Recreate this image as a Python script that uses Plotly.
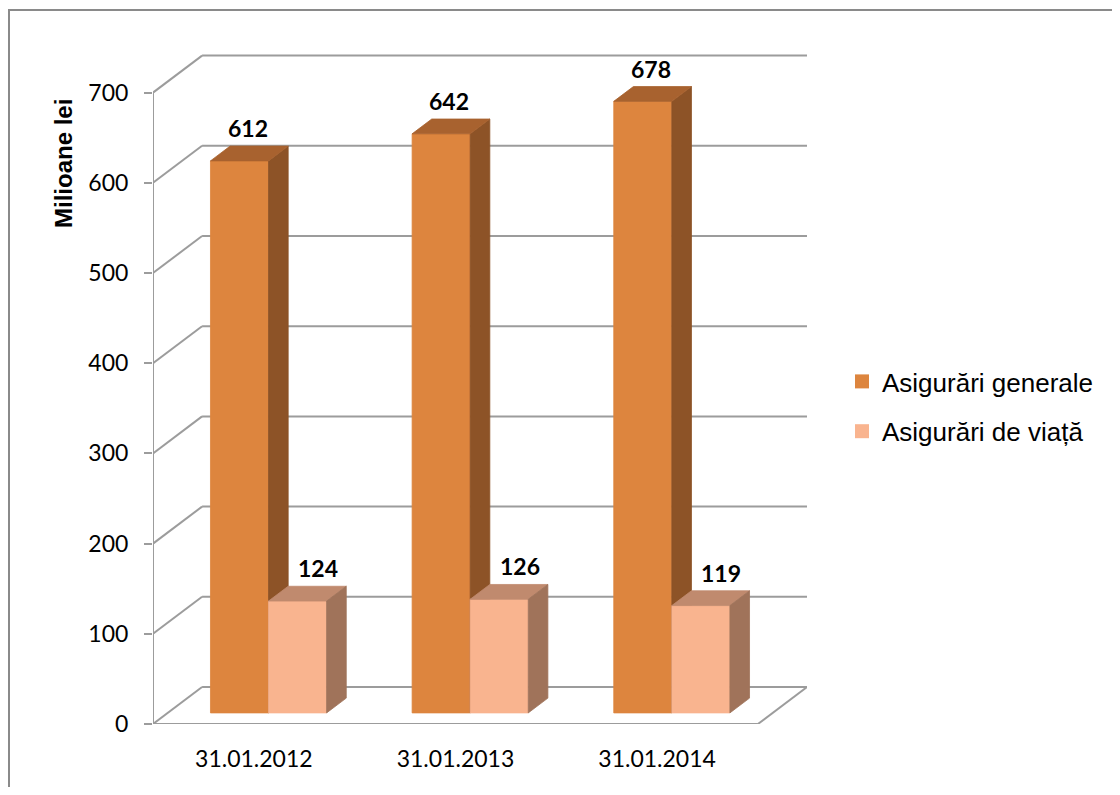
import plotly.graph_objects as go

# ---------------- data ----------------
categories = ["31.01.2012", "31.01.2013", "31.01.2014"]
general = [612, 642, 678]
life = [124, 126, 119]
series_names = ["Asigurări generale", "Asigurări de viață"]
y_ticks = [0, 100, 200, 300, 400, 500, 600, 700]
y_title = "Milioane lei"

# ---------------- style / geometry ----------------
DX = 0.2434   # depth offset (category units)
DY = 41.0     # depth offset (value units)
Z0, Z1 = 0.3, 0.7  # bar front / back depth fraction
W = 0.288     # bar width (category units)
GRID = "#9C9C9C"
col_gen = {"front": "#DD853E", "side": "#8D5327", "top": "#A8622F"}
col_life = {"front": "#F9B48F", "side": "#A0735A", "top": "#C08A6E"}
TICK_FONT = dict(family="Lato, Carlito, Calibri, sans-serif", size=23, color="#000000")
LABEL_FONT = dict(family="Lato, Carlito, Calibri, sans-serif", size=23, color="#000000")

n = len(categories)
xmin, xmax = -0.5, n - 0.5
ymax_axis = y_ticks[-1]

fig = go.Figure()


def faces(values, left_off):
    fx, fy, sx, sy, tx, ty = [], [], [], [], [], []
    for i, v in enumerate(values):
        x0 = i + left_off
        x1 = x0 + W
        a0, b0 = Z0 * DX, Z0 * DY
        a1, b1 = Z1 * DX, Z1 * DY
        fx += [x0 + a0, x1 + a0, x1 + a0, x0 + a0, x0 + a0, None]
        fy += [b0, b0, v + b0, v + b0, b0, None]
        sx += [x1 + a0, x1 + a1, x1 + a1, x1 + a0, x1 + a0, None]
        sy += [b0, b1, v + b1, v + b0, b0, None]
        tx += [x0 + a0, x1 + a0, x1 + a1, x0 + a1, x0 + a0, None]
        ty += [v + b0, v + b0, v + b1, v + b1, v + b0, None]
    return (fx, fy), (sx, sy), (tx, ty)


def poly(xy, color):
    return go.Scatter(x=xy[0], y=xy[1], mode="lines", fill="toself",
                      fillcolor=color, line=dict(color=color, width=0.8),
                      hoverinfo="skip", showlegend=False)


gf, gs, gt = faces(general, -W)
lf, ls, lt = faces(life, 0.0)
fig.add_trace(poly(gf, col_gen["front"]))
fig.add_trace(poly(gs, col_gen["side"]))
fig.add_trace(poly(gt, col_gen["top"]))
fig.add_trace(poly(lf, col_life["front"]))
fig.add_trace(poly(lt, col_life["top"]))
fig.add_trace(poly(ls, col_life["side"]))

# legend entries
for name, c, grp in [(series_names[0], col_gen["front"], "g1"),
                     (series_names[1], col_life["front"], "g2")]:
    fig.add_trace(go.Scatter(x=[None], y=[None], mode="markers", name=name,
                             legendgroup=grp,
                             marker=dict(symbol="square", size=14, color=c)))

# data labels
for vals, off, xs in [(general, -W / 2, 0.47), (life, W / 2, 0.72)]:
    for i, v in enumerate(vals):
        fig.add_annotation(x=i + off + xs * DX, y=v + Z1 * DY, text=f"<b>{v}</b>",
                           showarrow=False, xanchor="center", yanchor="middle",
                           yshift=18, font=LABEL_FONT)

# 3D grid: back wall lines + side wall diagonals
shapes = []
line = dict(color=GRID, width=2)
for v in y_ticks:
    shapes.append(dict(type="line", xref="x", yref="y", x0=xmin + DX, y0=v + DY,
                       x1=xmax + DX, y1=v + DY, line=line, layer="below"))
    shapes.append(dict(type="line", xref="x", yref="y", x0=xmin, y0=v,
                       x1=xmin + DX, y1=v + DY, line=line, layer="below"))
# floor front edge and right edge
shapes.append(dict(type="line", xref="x", yref="y", x0=xmin, y0=0, x1=xmax, y1=0,
                   line=line, layer="below"))
shapes.append(dict(type="line", xref="x", yref="y", x0=xmax, y0=0, x1=xmax + DX, y1=DY,
                   line=line, layer="below"))
# front value axis
shapes.append(dict(type="line", xref="x", yref="y", x0=xmin, y0=0, x1=xmin, y1=ymax_axis,
                   line=line, layer="below"))
# category boundary ticks
for k in range(n + 1):
    xb = xmin + k
    shapes.append(dict(type="line", xref="x", yref="y", ysizemode="pixel", yanchor=0,
                       x0=xb, x1=xb, y0=0, y1=-9, line=line, layer="below"))

# page layout (page has an 8px body margin)
OFF = 8
FW, FH = 1120 - 2 * OFF, 795 - 2 * OFF
L = 153 - OFF
T = 50 - OFF
PW = 654
PH = (724 - OFF) - T
R = FW - L - PW
B = FH - T - PH


def px_x(p):   # page pixel -> paper x
    return (p - OFF - L) / PW


def px_y(p):   # page pixel -> paper y
    return (T + PH - (p - OFF)) / PH


shapes.append(dict(type="rect", xref="paper", yref="paper",
                   x0=px_x(9), x1=px_x(1135), y0=px_y(810), y1=px_y(10),
                   line=dict(color="#8A8A8A", width=2), fillcolor="rgba(0,0,0,0)",
                   layer="below"))

fig.add_annotation(xref="paper", yref="paper", x=px_x(64), y=px_y(164),
                   xanchor="center", yanchor="middle",
                   text=f"<b>{y_title}</b>", textangle=-90, showarrow=False,
                   font=dict(family="Liberation Sans, Arial, sans-serif", size=24,
                             color="#000000"))

ymax_range = PH / 0.902
fig.update_layout(
    width=FW, height=FH,
    margin=dict(l=L, r=R, t=T, b=B, autoexpand=False),
    paper_bgcolor="white", plot_bgcolor="white",
    shapes=shapes,
    showlegend=True,
    legend=dict(x=px_x(842), y=px_y(358), xanchor="left", yanchor="top",
                font=dict(family="Liberation Sans, Arial, sans-serif", size=26,
                          color="#000000"),
                tracegroupgap=13, bgcolor="rgba(0,0,0,0)"),
    xaxis=dict(range=[xmin, xmax + DX], showgrid=False, zeroline=False,
               showline=False, tickmode="array", tickvals=list(range(n)),
               ticktext=categories, ticks="", tickfont=TICK_FONT,
               ticklabelstandoff=19, fixedrange=True),
    yaxis=dict(range=[0, ymax_range], showgrid=False, zeroline=False,
               showline=False, tickmode="array", tickvals=y_ticks,
               ticks="outside", ticklen=8, tickwidth=2, tickcolor=GRID,
               tickfont=TICK_FONT, ticklabelstandoff=11, fixedrange=True),
)

fig.write_html("out.html")
